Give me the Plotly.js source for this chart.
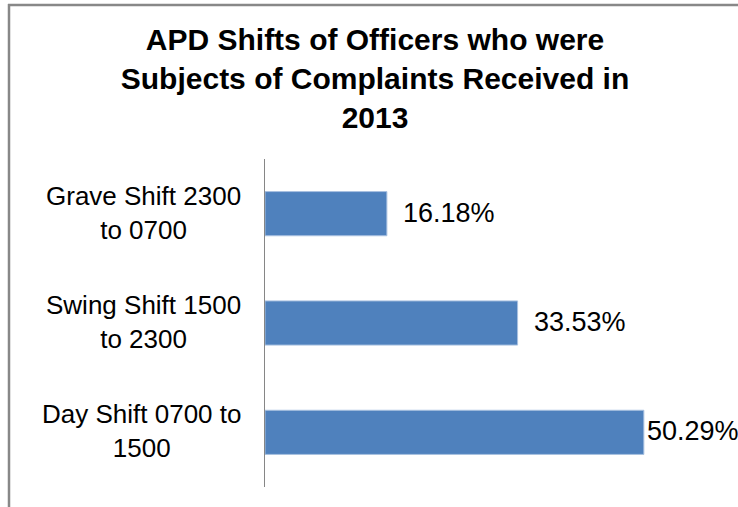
<!DOCTYPE html>
<html>
<head>
<meta charset="utf-8">
<script src="https://cdn.plot.ly/plotly-3.0.1.min.js"></script>
<style>
  html, body { margin: 0; padding: 0; background: #ffffff; }
  #chart { width: 738px; height: 507px; }
</style>
</head>
<body>
<div id="chart"></div>
<script>
// Data
var categories = ["Grave Shift 2300<br>to 0700", "Swing Shift 1500<br>to 2300", "Day Shift 0700 to<br>1500"];
var shares = [16.18, 33.53, 50.29];
var valueLabels = ["16.18%", "33.53%", "50.29%"];
var chartTitle = "APD Shifts of Officers who were<br>Subjects of Complaints Received in<br>2013";

var W = 738, H = 507;
var M = { l: 265, r: 21, t: 159, b: 20 };
var pw = W - M.l - M.r, ph = H - M.t - M.b;
function px2paperX(px) { return (px - M.l) / pw; }
function px2paperY(py) { return (H - M.b - py) / ph; }

var trace = {
  type: "bar",
  orientation: "h",
  y: categories,
  x: shares,
  marker: { color: "#4F81BD", line: { color: "#A9C1E0", width: 1 } },
  hoverinfo: "none",
  showlegend: false
};

var annotations = [];
categories.forEach(function (c, i) {
  annotations.push({
    xref: "paper", yref: "y", x: 0, y: c,
    xanchor: "right", yanchor: "middle", xshift: -22, yshift: 1,
    text: c, showarrow: false, align: "center",
    font: { family: "Liberation Sans, Arial, sans-serif", size: 26, color: "#000000" }
  });
  annotations.push({
    xref: "x", yref: "y", x: shares[i], y: c,
    xanchor: "left", yanchor: "middle", xshift: shares[i] > 45 ? 1 : 14, yshift: 1,
    text: valueLabels[i], showarrow: false,
    font: { family: "Liberation Sans, Arial, sans-serif", size: 27, color: "#000000" }
  });
});

var layout = {
  width: W, height: H,
  margin: M,
  paper_bgcolor: "#ffffff",
  plot_bgcolor: "#ffffff",
  bargap: 0.596,
  title: {
    text: chartTitle,
    font: { family: "Liberation Sans, Arial, sans-serif", size: 30, color: "#000000", weight: "bold" },
    xref: "container", yref: "container",
    x: 375 / W, xanchor: "center",
    y: 1 - 50 / H, yanchor: "top"
  },
  xaxis: { range: [0, 60], visible: false, showgrid: false, zeroline: false },
  yaxis: {
    type: "category",
    autorange: "reversed",
    showticklabels: false,
    showgrid: false,
    zeroline: false,
    showline: true,
    linecolor: "#868686",
    linewidth: 1,
    ticks: ""
  },
  annotations: annotations,
  shapes: [
    { type: "line", xref: "paper", yref: "paper",
      x0: px2paperX(8), x1: px2paperX(W + 5), y0: px2paperY(5), y1: px2paperY(5),
      line: { color: "#888888", width: 2.5 } },
    { type: "line", xref: "paper", yref: "paper",
      x0: px2paperX(9), x1: px2paperX(9), y0: px2paperY(4), y1: px2paperY(H + 5),
      line: { color: "#888888", width: 2.5 } }
  ]
};

Plotly.newPlot("chart", [trace], layout, { displayModeBar: false, staticPlot: true });
</script>
</body>
</html>
